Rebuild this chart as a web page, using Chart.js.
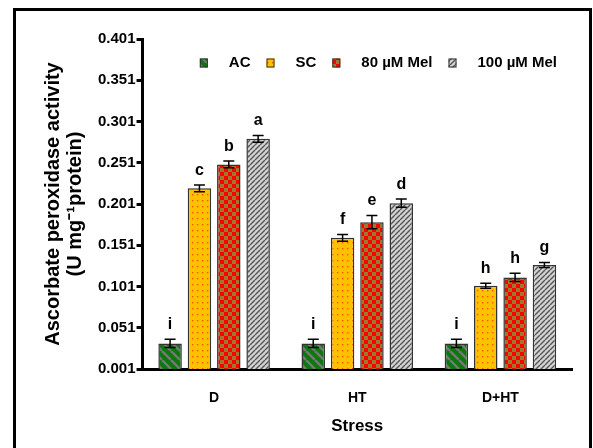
<!DOCTYPE html>
<html>
<head>
<meta charset="utf-8">
<script src="https://cdn.jsdelivr.net/npm/chart.js@4.4.1/dist/chart.umd.min.js"></script>
<style>
  body { margin: 0; background: #fff; }
</style>
</head>
<body>
<canvas id="apxChart" width="593" height="448"></canvas>
<script>
const categories = ['D', 'HT', 'D+HT'];
const seriesLabels = ['AC', 'SC', '80 µM Mel', '100 µM Mel'];

const acValues = [0.032, 0.032, 0.032];
const scValues = [0.220, 0.160, 0.102];
const mel80Values = [0.249, 0.179, 0.112];
const mel100Values = [0.280, 0.202, 0.127];

const acErrors = [0.005, 0.005, 0.005];
const scErrors = [0.004, 0.004, 0.003];
const mel80Errors = [0.004, 0.008, 0.005];
const mel100Errors = [0.004, 0.005, 0.003];

const acLetters = ['i', 'i', 'i'];
const scLetters = ['c', 'f', 'h'];
const mel80Letters = ['b', 'e', 'h'];
const mel100Letters = ['a', 'd', 'g'];

const yTicks = [0.001, 0.051, 0.101, 0.151, 0.201, 0.251, 0.301, 0.351, 0.401];

const FONT = "'Liberation Sans', Arial, sans-serif";

// small tiles used as fill patterns
function makeTile(w, h, draw) {
  const c = document.createElement('canvas');
  c.width = w; c.height = h;
  draw(c.getContext('2d'), w, h);
  return c.getContext('2d').createPattern(c, 'repeat');
}

const acPattern = makeTile(9, 9, (g, w, h) => {
  g.fillStyle = '#0b780b'; g.fillRect(0, 0, w, h);
  g.strokeStyle = '#777'; g.lineWidth = 2.5;
  for (const o of [-w, 0, w]) {
    g.beginPath(); g.moveTo(o, 0); g.lineTo(o + w, h); g.stroke();
  }
});
const scPattern = makeTile(5, 6, (g, w, h) => {
  g.fillStyle = '#ffc000'; g.fillRect(0, 0, w, h);
  g.fillStyle = '#ff4a00'; g.fillRect(2, 2, 1.3, 1.3);
});
const mel80Pattern = makeTile(8, 8, (g, w, h) => {
  g.fillStyle = '#9a7a2c'; g.fillRect(0, 0, w, h);
  g.fillStyle = '#ff0000'; g.fillRect(0, 0, 4, 4); g.fillRect(4, 4, 4, 4);
});
const mel100Pattern = makeTile(5, 5, (g, w, h) => {
  g.fillStyle = '#d4d4d4'; g.fillRect(0, 0, w, h);
  g.strokeStyle = '#555'; g.lineWidth = 1.4;
  for (const o of [-w, 0, w]) {
    g.beginPath(); g.moveTo(o, h); g.lineTo(o + w, 0); g.stroke();
  }
});

const errorSets = [acErrors, scErrors, mel80Errors, mel100Errors];
const letterSets = [acLetters, scLetters, mel80Letters, mel100Letters];

// error bars + significance letters
const errorBarPlugin = {
  id: 'errorBars',
  afterDatasetsDraw(chart) {
    const ctx = chart.ctx;
    const y = chart.scales.y;
    ctx.save();
    chart.data.datasets.forEach((ds, i) => {
      const meta = chart.getDatasetMeta(i);
      meta.data.forEach((bar, j) => {
        const v = ds.data[j], e = errorSets[i][j];
        const top = y.getPixelForValue(v + e);
        const bot = y.getPixelForValue(v - e);
        ctx.strokeStyle = '#000';
        ctx.lineWidth = 1.5;
        ctx.beginPath();
        ctx.moveTo(bar.x, top); ctx.lineTo(bar.x, bot);
        ctx.moveTo(bar.x - 5.5, top); ctx.lineTo(bar.x + 5.5, top);
        ctx.moveTo(bar.x - 5.5, bot); ctx.lineTo(bar.x + 5.5, bot);
        ctx.stroke();
        ctx.fillStyle = '#000';
        ctx.font = 'bold 16px ' + FONT;
        ctx.textAlign = 'center';
        ctx.textBaseline = 'alphabetic';
        ctx.fillText(letterSets[i][j], bar.x, top - 10.5);
      });
    });
    ctx.restore();
  }
};

// legend inside the plot, one row, right side
const insideLegend = {
  id: 'insideLegend',
  afterDraw(chart) {
    const ctx = chart.ctx;
    const area = chart.chartArea;
    ctx.save();
    ctx.font = 'bold 15px ' + FONT;
    const widths = chart.data.datasets.map(ds => 8 + 21 + ctx.measureText(ds.label).width);
    const total = widths.reduce((a, b) => a + b, 0) + 16 * (widths.length - 1);
    let x = area.right - 15 - total;
    const cy = area.top + 24;
    chart.data.datasets.forEach((ds, i) => {
      ctx.fillStyle = ds.backgroundColor;
      ctx.fillRect(x, cy - 4.5, 8, 9);
      ctx.strokeStyle = '#333';
      ctx.lineWidth = 1;
      ctx.strokeRect(x + 0.5, cy - 4, 7, 8);
      ctx.fillStyle = '#000';
      ctx.textAlign = 'left';
      ctx.textBaseline = 'middle';
      ctx.fillText(ds.label, x + 29, cy);
      x += widths[i] + 16;
    });
    ctx.restore();
  }
};

// outer frame around the figure
const framePlugin = {
  id: 'frame',
  afterDraw(chart) {
    const ctx = chart.ctx;
    ctx.save();
    ctx.strokeStyle = '#000';
    ctx.lineWidth = 3;
    ctx.beginPath();
    ctx.moveTo(14.5, 448);
    ctx.lineTo(14.5, 9.5);
    ctx.lineTo(590.5, 9.5);
    ctx.lineTo(590.5, 448);
    ctx.stroke();
    ctx.restore();
  }
};

new Chart(document.getElementById('apxChart'), {
  type: 'bar',
  data: {
    labels: categories,
    datasets: [
      { label: seriesLabels[0], data: acValues, backgroundColor: acPattern },
      { label: seriesLabels[1], data: scValues, backgroundColor: scPattern },
      { label: seriesLabels[2], data: mel80Values, backgroundColor: mel80Pattern },
      { label: seriesLabels[3], data: mel100Values, backgroundColor: mel100Pattern }
    ].map(d => Object.assign(d, { borderColor: '#333', borderWidth: 1.5 }))
  },
  options: {
    responsive: false,
    animation: false,
    categoryPercentage: 0.82,
    barPercentage: 0.8,
    layout: { padding: { left: 42, right: 21, top: 39, bottom: 9 } },
    plugins: {
      tooltip: { enabled: false },
      legend: { display: false }
    },
    scales: {
      x: {
        afterFit(scale) { scale.height = 70; },
        grid: { display: false, drawTicks: false },
        border: { display: true, color: '#000', width: 3 },
        ticks: {
          padding: 21,
          color: '#000',
          font: { family: FONT, size: 14, weight: 'bold' }
        },
        title: {
          display: true,
          text: 'Stress',
          color: '#000',
          padding: { top: 10, bottom: 2 },
          font: { family: FONT, size: 17, weight: 'bold' }
        }
      },
      y: {
        min: 0.001,
        max: 0.401,
        afterBuildTicks(scale) {
          scale.ticks = yTicks.map(v => ({ value: v }));
        },
        grid: {
          drawOnChartArea: false,
          drawTicks: true,
          tickLength: 6,
          tickWidth: 3,
          tickColor: '#000'
        },
        border: { display: true, color: '#000', width: 3 },
        ticks: {
          padding: 1,
          color: '#000',
          font: { family: FONT, size: 15, weight: 'bold' },
          callback: v => v.toFixed(3)
        },
        title: {
          display: true,
          text: ['Ascorbate peroxidase activity', '(U mg⁻¹protein)'],
          color: '#000',
          padding: { top: 0, bottom: 11 },
          font: { family: FONT, size: 20, weight: 'bold', lineHeight: 1.1 }
        }
      }
    }
  },
  plugins: [errorBarPlugin, insideLegend, framePlugin]
});
</script>
</body>
</html>
